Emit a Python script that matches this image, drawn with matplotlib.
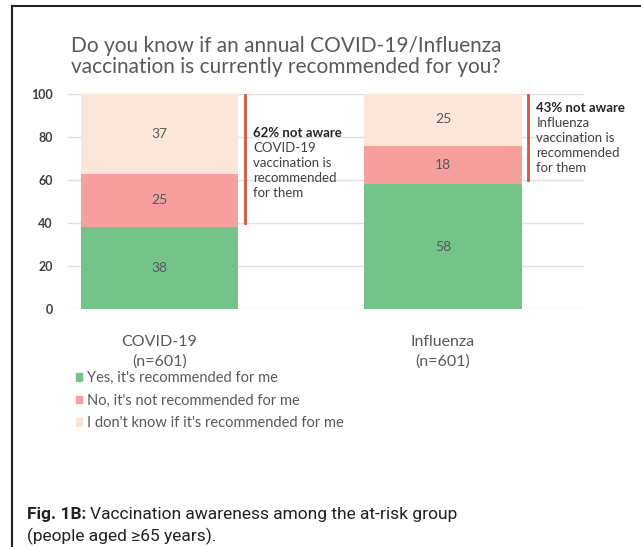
import matplotlib.pyplot as plt
from matplotlib.lines import Line2D
from matplotlib.patches import Patch

# data
groups = ['COVID-19\n(n=601)', 'Influenza\n(n=601)']
yes_rec = [38, 58]
no_rec = [25, 18]
dont_know = [37, 25]
series_names = ["Yes, it's recommended for me",
                "No, it's not recommended for me",
                "I don't know if it's recommended for me"]
note_heads = ['62% not aware', '43% not aware']
note_bodies = [['COVID-19', 'vaccination is', 'recommended', 'for them'],
               ['Influenza', 'vaccination is', 'recommended', 'for them']]
title_lines = ['Do you know if an annual COVID-19/Influenza',
               'vaccination is currently recommended for you?']

colors = ['#74c48a', '#f5a09c', '#fce6da']
txt_gray = '#595959'
red = '#d2553f'

plt.rcParams['font.family'] = ['Lato', 'DejaVu Sans']

fig = plt.figure(figsize=(6.41, 5.47), dpi=100)
ax = fig.add_axes([0.106, 0.435, 0.805, 0.393])

x = range(len(groups))
bottom = [0, 0]
for vals, col in zip([yes_rec, no_rec, dont_know], colors):
    ax.bar(x, vals, width=0.556, bottom=bottom, color=col, zorder=2)
    for xi, v, b in zip(x, vals, bottom):
        ax.text(xi, b + v / 2, str(v), ha='center', va='center',
                fontsize=10, color=txt_gray, zorder=3)
    bottom = [b + v for b, v in zip(bottom, vals)]

ax.set_xlim(-0.323, 1.497)
ax.set_ylim(0, 100)
ax.set_yticks(range(0, 101, 20))
ax.yaxis.grid(True, color='#e0e0e0', linewidth=1, zorder=0)
ax.set_axisbelow(True)
for s in ax.spines.values():
    s.set_visible(False)
ax.tick_params(axis='y', length=0, pad=11, labelsize=9, labelcolor='#404040')
for lab in ax.get_yticklabels():
    lab.set_fontweight('bold')
ax.set_xticks(list(x))
ax.set_xticklabels(groups, fontsize=11.5, color=txt_gray, linespacing=1.45)
ax.tick_params(axis='x', length=0, pad=19)

# red lines with the "not aware" notes
line_x = [0.302, 1.300]
line_bottom = [40, 60]
head_y = [82, 93.5]
for lx, lb, hy, head, body in zip(line_x, line_bottom, head_y, note_heads, note_bodies):
    ax.plot([lx, lx], [lb, 99.5], color=red, lw=2, clip_on=False, zorder=3)
    ax.text(lx + 0.029, hy, head, fontsize=9.5, fontweight='bold', color='#262626',
            va='center', clip_on=False)
    for i, line in enumerate(body):
        ax.text(lx + 0.029, hy - 7 * (i + 1), line, fontsize=9.5, color='#404040',
                va='center', clip_on=False)

for i, line in enumerate(title_lines):
    fig.text(0.446, 1 - (46 + 21 * i) / 547, line, ha='center', va='center',
             fontsize=15, color=txt_gray)

handles = [Patch(color=c) for c in colors]
fig.legend(handles, series_names, loc='upper left', bbox_to_anchor=(0.118, 0.322),
           frameon=False, fontsize=10.5, handlelength=0.45, handleheight=0.45,
           handletextpad=0.3, labelspacing=0.6, borderpad=0, borderaxespad=0,
           labelcolor=txt_gray)

# figure frame (top and left edges)
fig.add_artist(Line2D([0.019, 1.0], [0.989, 0.989], color='#222222', lw=1.5))
fig.add_artist(Line2D([0.019, 0.019], [0.0, 0.989], color='#222222', lw=1.5))

cap_font = ['Roboto', 'DejaVu Sans']
head = fig.text(0.042, 1 - 514 / 547, 'Fig. 1B:', fontsize=12.5, fontweight='bold',
                color='#222222', va='center', family=cap_font)
fig.canvas.draw()
hx = head.get_window_extent().x1 / fig.bbox.width
fig.text(hx + 0.006, 1 - 514 / 547, 'Vaccination awareness among the at-risk group',
         fontsize=12.5, color='#222222', va='center', family=cap_font)
fig.text(0.042, 1 - 536 / 547, '(people aged \u226565 years).', fontsize=12.5,
         color='#222222', va='center', family=cap_font)

fig.savefig('out.png', dpi=100)
